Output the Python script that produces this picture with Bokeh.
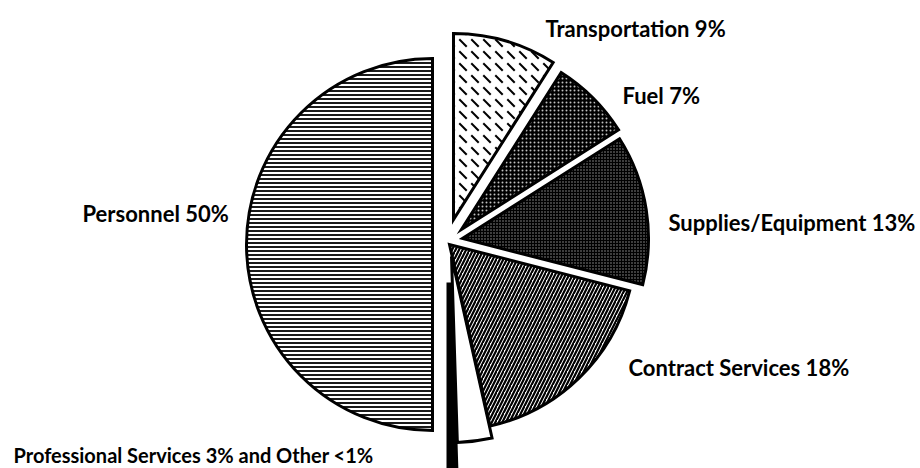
import math
from bokeh.plotting import figure
from bokeh.models import Range1d
from bokeh.core.properties import value
from bokeh.embed import file_html
from bokeh.resources import INLINE

# ---- data (percent of budget, clockwise from 12 o'clock) ----
categories = ["Transportation", "Fuel", "Supplies/Equipment", "Contract Services",
              "Professional Services", "Other", "Personnel"]
shares = [9, 7, 13, 17.5, 3, 0.5, 50]
label_texts = ["Transportation 9%", "Fuel 7%", "Supplies/Equipment 13%",
               "Contract Services 18%", "Personnel 50%",
               "Professional Services 3% and Other <1%"]

# ---- layout (image pixel coordinates, y downward) ----
W, H = 920, 468
R = 186
centers = [(453, 219), (461, 229), (462, 238), (449, 244), (451, 256), (449, 282), (432, 244)]
label_pos = [(545, 28), (622, 95), (668, 222), (628, 367), (82, 213), (13, 454)]
label_sizes = ["22px", "22px", "22px", "22px", "22px", "20px"]

styles = {
    "Transportation": dict(fill_color="white", hatch_pattern="left_diagonal_dash", hatch_scale=12, hatch_weight=2, hatch_color="black"),
    "Fuel": dict(fill_color="black", hatch_pattern="dot", hatch_scale=4, hatch_weight=1, hatch_color="white", hatch_alpha=0.75),
    "Supplies/Equipment": dict(fill_color="black", hatch_pattern="dot", hatch_scale=3, hatch_weight=1, hatch_color="white", hatch_alpha=0.6),
    "Contract Services": dict(fill_color="white", hatch_pattern="right_diagonal_line", hatch_scale=7, hatch_weight=2.2, hatch_color="black"),
    "Professional Services": dict(fill_color="white"),
    "Other": dict(fill_color="black"),
    "Personnel": dict(fill_color="white", hatch_pattern="horizontal_line", hatch_scale=4, hatch_weight=1.8, hatch_color="black"),
}
line_widths = {"Other": 6}

p = figure(width=W, height=H, output_backend="svg", toolbar_location=None,
           x_range=Range1d(0, W), y_range=Range1d(0, H), min_border=0)
p.axis.visible = False
p.grid.visible = False
p.outline_line_color = None
p.background_fill_color = "white"

cum = [0]
for s in shares:
    cum.append(cum[-1] + s)
total = cum[-1]

order = [6, 5, 4, 3, 2, 1, 0]
for i in order:
    name = categories[i]
    a0 = cum[i] / total * 2 * math.pi
    a1 = cum[i + 1] / total * 2 * math.pi
    cx, cy = centers[i]
    p.wedge(x=cx, y=H - cy, radius=R,
            start_angle=math.pi / 2 - a1, end_angle=math.pi / 2 - a0,
            line_color="black", line_width=line_widths.get(name, 3), line_join="miter",
            **styles[name])

for (lx, ly), txt, fs in zip(label_pos, label_texts, label_sizes):
    p.text(x=[lx], y=[H - ly], text=[txt],
           text_font=value("Lato"), text_font_style="bold",
           text_font_size=fs, text_color="black",
           text_align="left", text_baseline="alphabetic")

open("out.html", "w").write(file_html(p, INLINE))
